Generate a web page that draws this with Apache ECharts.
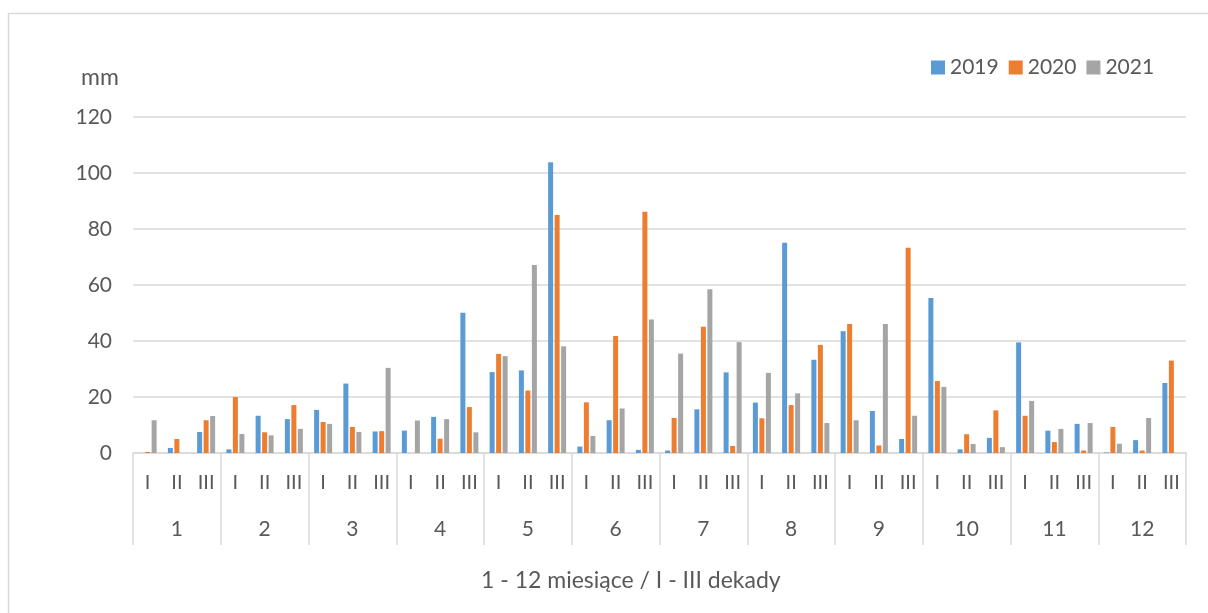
<!DOCTYPE html>
<html>
<head>
<meta charset="utf-8">
<script src="https://cdn.jsdelivr.net/npm/echarts@6/dist/echarts.min.js"></script>
<style>
  html, body { margin: 0; padding: 0; background: #fff; }
  #chart { width: 1208px; height: 613px; }
</style>
</head>
<body>
<div id="chart"></div>
<script>
// Ten-day (dekada) precipitation totals, mm
const months = ['1', '2', '3', '4', '5', '6', '7', '8', '9', '10', '11', '12'];
const dekady = ['I', 'II', 'III'];
const seriesNames = ['2019', '2020', '2021'];

const rain2019 = [0, 1.8, 7.5, 1.3, 13.3, 12.1, 15.4, 24.8, 7.7, 8.0, 12.9, 50.1,
  28.9, 29.5, 103.8, 2.3, 11.7, 1.1, 0.9, 15.6, 28.8, 18.0, 75.1, 33.3,
  43.5, 15.0, 5.0, 55.4, 1.3, 5.4, 39.5, 8.0, 10.4, 0.2, 4.6, 25.0];
const rain2020 = [0.4, 5.0, 11.7, 20.0, 7.4, 17.1, 11.1, 9.3, 7.8, 0, 5.1, 16.4,
  35.4, 22.3, 85.0, 18.1, 41.8, 86.2, 12.5, 45.1, 2.5, 12.4, 17.1, 38.6,
  46.1, 2.7, 73.3, 25.7, 6.7, 15.2, 13.3, 3.9, 0.9, 9.3, 0.9, 33.0];
const rain2021 = [11.7, 0, 13.2, 6.8, 6.3, 8.6, 10.4, 7.5, 30.4, 11.6, 12.1, 7.4,
  34.6, 67.1, 38.1, 6.1, 15.9, 47.7, 35.5, 58.5, 39.6, 28.6, 21.3, 10.7,
  11.7, 46.1, 13.3, 23.6, 3.2, 2.1, 18.6, 8.6, 10.7, 3.3, 12.5, 0];

const yTicks = [0, 20, 40, 60, 80, 100, 120];

// one category per dekada: I, II, III repeated for each month
const dekadaCats = [];
months.forEach(() => dekady.forEach(d => dekadaCats.push(d)));

const colors = ['#5B9BD5', '#ED7D31', '#A5A5A5'];
const textColor = '#595959';
const lineColor = '#D9D9D9';
const font = 'Lato, "Liberation Sans", sans-serif';

const chart = echarts.init(document.getElementById('chart'), null, { renderer: 'canvas' });

const values = [rain2019, rain2020, rain2021];

chart.setOption({
  animation: false,
  color: colors,
  textStyle: { fontFamily: font },
  title: [
    { text: 'mm', left: 76, top: 61,
      textStyle: { fontFamily: font, fontSize: 23, fontWeight: 'normal', color: textColor } },
    { text: '1 - 12 miesiące / I - III dekady', left: 476, top: 564,
      textStyle: { fontFamily: font, fontSize: 23, fontWeight: 'normal', color: textColor } }
  ],
  legend: {
    left: 926, top: 52,
    itemWidth: 14, itemHeight: 14, itemGap: 10,
    icon: 'rect',
    textStyle: { fontFamily: font, fontSize: 21, color: textColor },
    data: seriesNames
  },
  graphic: [{
    type: 'rect',
    shape: { x: 8.5, y: 13.5, width: 1400, height: 800 },
    style: { fill: 'none', stroke: lineColor, lineWidth: 1.5 },
    silent: true
  }],
  grid: { left: 133, right: 22, top: 117, bottom: 160, containLabel: false },
  xAxis: [
    {
      type: 'category',
      position: 'bottom',
      data: dekadaCats,
      axisLine: { show: true, lineStyle: { color: lineColor, width: 1.5 } },
      axisTick: { show: false },
      axisLabel: { interval: 0, margin: 20, fontFamily: font, fontSize: 20, color: textColor }
    },
    {
      type: 'category',
      position: 'bottom',
      data: months,
      boundaryGap: true,
      axisLine: { show: false },
      axisTick: { show: true, interval: 0, length: 92, lineStyle: { color: lineColor, width: 1.5 } },
      axisLabel: { interval: 0, margin: 66, fontFamily: font, fontSize: 21, color: textColor }
    }
  ],
  yAxis: {
    type: 'value',
    min: yTicks[0], max: yTicks[yTicks.length - 1], interval: 20,
    axisLine: { show: false },
    axisTick: { show: false },
    splitLine: { lineStyle: { color: lineColor, width: 1.5 } },
    axisLabel: { margin: 21, fontFamily: font, fontSize: 21, color: textColor }
  },
  series: seriesNames.map((name, i) => ({
    name: name,
    type: 'bar',
    xAxisIndex: 0,
    data: values[i],
    barWidth: 5,
    barGap: '30%',
    itemStyle: { color: colors[i] }
  }))
});
</script>
</body>
</html>
